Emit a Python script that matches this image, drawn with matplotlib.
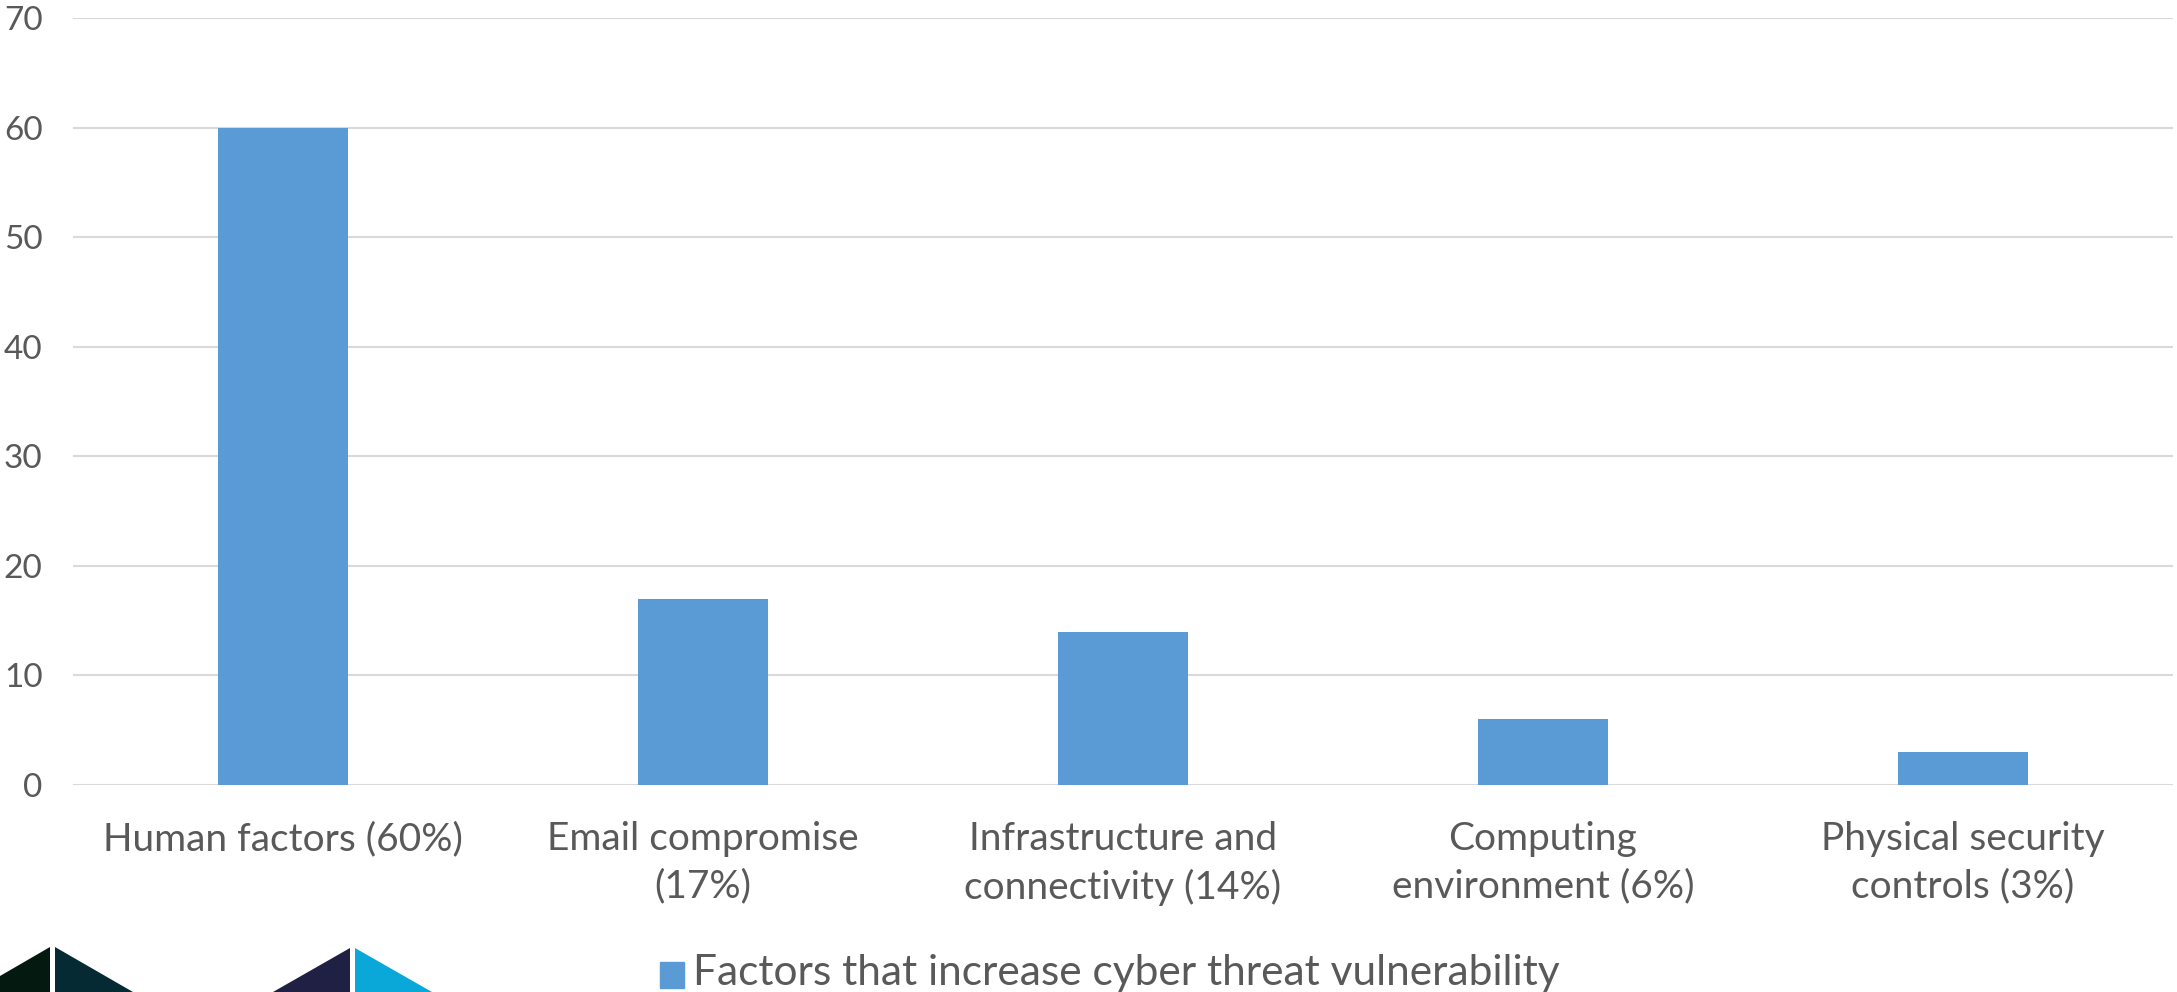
import matplotlib
matplotlib.use("Agg")
import matplotlib.pyplot as plt
from matplotlib.patches import Polygon, Rectangle

# chart data
categories = [
    "Human factors (60%)",
    "Email compromise\n(17%)",
    "Infrastructure and\nconnectivity (14%)",
    "Computing\nenvironment (6%)",
    "Physical security\ncontrols (3%)",
]
values = [60, 17, 14, 6, 3]
y_ticks = [0, 10, 20, 30, 40, 50, 60, 70]
series_name = "Factors that increase cyber threat vulnerability"

W, H = 2177, 992
BAR = "#5b9bd5"
TEXT = "#595959"
GRID = "#d9d9d9"

plt.rcParams["font.family"] = ["Lato", "DejaVu Sans"]

fig = plt.figure(figsize=(W / 100, H / 100), dpi=100)
ax = fig.add_axes([73 / W, 1 - 785 / H, 2100 / W, 767 / H])

x = list(range(len(categories)))
ax.bar(x, values, width=0.31, color=BAR, zorder=3)

ax.set_xlim(-0.5, len(categories) - 0.5)
ax.set_ylim(0, 70)
ax.set_yticks(y_ticks)
ax.set_yticklabels([str(t) for t in y_ticks], fontsize=24, color=TEXT)
ax.set_xticks(x)
ax.set_xticklabels(categories, fontsize=28, color=TEXT, linespacing=1.4)
ax.tick_params(axis="y", length=0, pad=22)
ax.tick_params(axis="x", length=0, pad=26)
ax.grid(axis="y", color=GRID, linewidth=1.5, zorder=0)
for s in ax.spines.values():
    s.set_visible(False)

# legend entry centred under the plot
fig.patches.append(Rectangle((660 / W, 1 - 988 / H), 24 / W, 26 / H,
                             transform=fig.transFigure, color=BAR))
fig.text(693 / W, 1 - 973 / H, series_name, fontsize=30.6, color=TEXT,
         va="center", ha="left")


def px(pts):
    return [(a / W, 1 - b / H) for a, b in pts]


# logo triangles at the lower left
shapes = [
    ([(0, 992), (0, 976), (50, 947), (50, 992)], "#04190f"),
    ([(55, 947), (133, 992), (55, 992)], "#062a33"),
    ([(273, 992), (350, 948), (350, 992)], "#1f2044"),
    ([(355, 948), (432, 992), (355, 992)], "#0aa8d9"),
]
for pts, col in shapes:
    fig.patches.append(Polygon(px(pts), closed=True, transform=fig.transFigure,
                               facecolor=col, edgecolor="none"))

fig.savefig("out.png", dpi=100, facecolor="white")
